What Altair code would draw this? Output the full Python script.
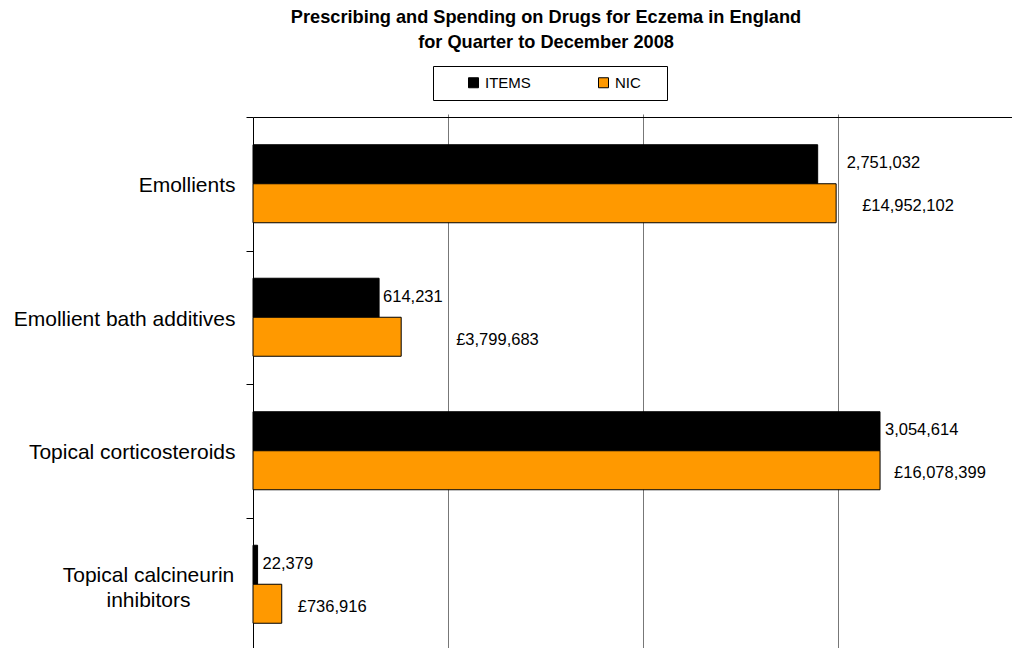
import altair as alt
import pandas as pd

# ---- data ----
categories = [
    "Emollients",
    "Emollient bath additives",
    "Topical corticosteroids",
    "Topical calcineurin inhibitors",
]
items = [2751032, 614231, 3054614, 22379]
nic = [14952102, 3799683, 16078399, 736916]
series_names = ["ITEMS", "NIC"]

# ---- styling / layout (kept apart from the data) ----
series_colors = ["#000000", "#FF9900"]
items_label_gap = [29, 4, 5, 5]      # px right of the bar end
nic_label_gap = [26, 55, 14, 16]
FONT = "Liberation Sans, Arial, sans-serif"
WRAPPED = "Topical calcineurin inhibitors"
PLOT_W = 759          # plot area visible inside the page
FULL_W = 780          # width the axis range spans in the original (cut at the window edge)
ITEMS_MAX = 3800000 * PLOT_W / FULL_W
NIC_MAX = 20000000 * PLOT_W / FULL_W

rows = []
for c, v in zip(categories, items):
    rows.append({"category": c, "series": "ITEMS", "value": v})
for c, v in zip(categories, nic):
    rows.append({"category": c, "series": "NIC", "value": v})
df = pd.DataFrame(rows)

cond = f"datum.value == '{WRAPPED}'"
y_axis = alt.Axis(
    title=None,
    grid=False,
    domainColor="black",
    domainWidth=1,
    tickColor="black",
    tickWidth=1,
    tickSize=7,
    tickBand="extent",
    labelFont=FONT,
    labelFontSize=21,
    labelColor="black",
    labelLimit=400,
    labelLineHeight=25,
    labelBaseline="middle",
    labelExpr=f"datum.value == '{WRAPPED}' ? ['Topical calcineurin', 'inhibitors'] : datum.value",
    labelAlign=alt.condition(cond, alt.value("center"), alt.value("right")),
    labelPadding=alt.condition(cond, alt.value(98), alt.value(11)),
    labelOffset=alt.condition(cond, alt.value(-9), alt.value(2)),
)
y_enc = alt.Y(
    "category:N",
    sort=categories,
    scale=alt.Scale(range=[0, 534], paddingInner=0, paddingOuter=0),
    axis=y_axis,
)
yoff = alt.YOffset(
    "series:N",
    sort=series_names,
    scale=alt.Scale(domain=series_names, paddingInner=0, paddingOuter=0.7115),
)
color = alt.Color(
    "series:N",
    scale=alt.Scale(domain=series_names, range=series_colors),
    legend=alt.Legend(
        title=" ",
        titleOrient="left",
        titlePadding=24,
        titleFontSize=15,
        orient="none",
        legendX=180,
        legendY=-51,
        direction="horizontal",
        symbolType="square",
        symbolSize=100,
        symbolStrokeColor="black",
        symbolStrokeWidth=1,
        labelFont=FONT,
        labelFontSize=15,
        labelColor="black",
        labelOffset=4,
        columnPadding=48,
        padding=9,
        strokeColor="black",
        fillColor="white",
        labelExpr="datum.label + '    \u200b'",
    ),
)

items_axis = alt.Axis(orient="top", title=None, labels=False, ticks=False, grid=False,
                      domain=True, domainColor="black", domainWidth=1)
nic_axis = alt.Axis(orient="bottom", title=None, labels=False, ticks=False, domain=False,
                    grid=True, gridColor="#777777", gridWidth=1,
                    values=[5000000, 10000000, 15000000])

x_items = alt.X("value:Q", scale=alt.Scale(domain=[0, ITEMS_MAX], nice=False, zero=True), axis=items_axis)
x_nic = alt.X("value:Q", scale=alt.Scale(domain=[0, NIC_MAX], nice=False, zero=True), axis=nic_axis)


def series_group(name, x_enc, gaps, label_expr, dy):
    base = alt.Chart(df).transform_filter(f"datum.series == '{name}'")
    bars = base.mark_bar(stroke="black", strokeWidth=1).encode(
        x=x_enc, y=y_enc, yOffset=yoff, color=color
    )
    layers = [bars]
    for c, g in zip(categories, gaps):
        t = (
            base.transform_filter(f"datum.category == '{c}'")
            .transform_calculate(label=label_expr)
            .mark_text(align="left", baseline="middle", dx=g, dy=dy,
                       font=FONT, fontSize=16.5, color="black")
            .encode(x=x_enc, y=y_enc, yOffset=yoff, text="label:N")
        )
        layers.append(t)
    return alt.layer(*layers)


items_group = series_group("ITEMS", x_items, items_label_gap, "format(datum.value, ',d')", -1)
nic_group = series_group("NIC", x_nic, nic_label_gap, "'£' + format(datum.value, ',d')", 3)

chart = (
    alt.layer(items_group, nic_group)
    .resolve_scale(x="independent")
    .properties(
        width=PLOT_W,
        height=531,
        autosize=alt.AutoSizeParams(type="none"),
        padding={"left": 245, "top": 109, "right": 0, "bottom": 0},
        title=alt.Title(
            text=["Prescribing and Spending on Drugs for Eczema in England",
                  "for Quarter to December 2008"],
            font=FONT,
            fontSize=18.2,
            fontWeight="bold",
            color="black",
            anchor="middle",
            frame="group",
            dx=-86.5,
            dy=3,
            baseline="alphabetic",
            lineHeight=25,
            offset=2,
        ),
    )
    .configure_view(stroke="transparent")
    .configure(background="white")
)

chart.save("out.html", embed_options={"renderer": "svg", "actions": False})
